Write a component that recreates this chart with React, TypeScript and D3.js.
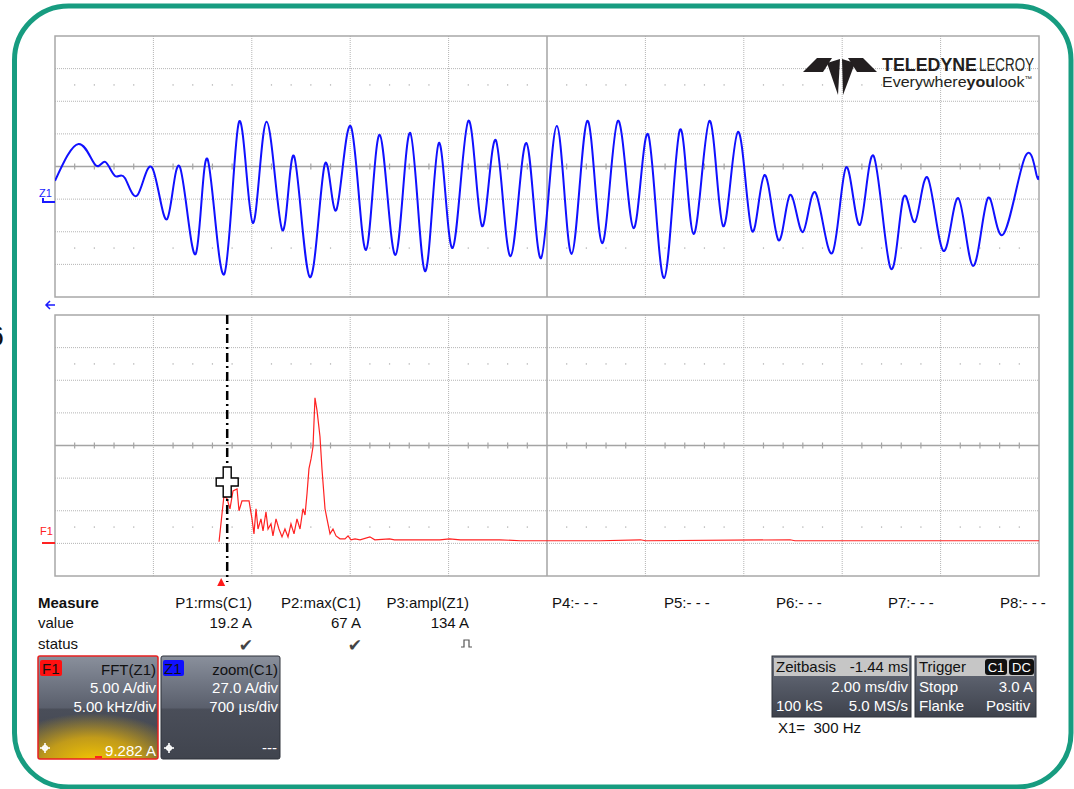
import React from 'react';
import * as d3 from 'd3';

// zoom trace Z1 (divisions: x 0..10, y -4..4), read at peaks / troughs
const zoomX = [0, 0.24, 0.41, 0.51, 0.61, 0.71, 0.84, 0.99, 1.14, 1.27, 1.43, 1.55, 1.72, 1.87, 2.01, 2.15, 2.31, 2.43, 2.59, 2.74, 2.86, 3.01, 3.16, 3.3, 3.46, 3.61, 3.76, 3.9, 4.04, 4.2, 4.34, 4.48, 4.63, 4.79, 4.94, 5.1, 5.25, 5.41, 5.56, 5.72, 5.88, 6.03, 6.19, 6.35, 6.49, 6.65, 6.79, 6.94, 7.08, 7.21, 7.35, 7.47, 7.6, 7.73, 7.9, 8.04, 8.18, 8.32, 8.49, 8.62, 8.74, 8.87, 9.03, 9.18, 9.33, 9.48, 9.63, 9.85, 9.97, 10];
const zoomY = [-0.44, 0.69, 0.05, 0.14, -0.29, -0.35, -0.87, -0.05, -1.61, -0.02, -2.68, 0.23, -3.3, 1.37, -1.73, 1.37, -1.95, 0.32, -3.39, 0.05, -1.33, 1.21, -2.56, 0.97, -2.71, 1.03, -3.21, 0.72, -2.5, 1.4, -1.83, 0.81, -2.75, 0.72, -2.81, 1.24, -2.68, 1.4, -2.35, 1.4, -1.89, 0.97, -3.42, 1.12, -2.07, 1.4, -1.83, 1.06, -1.95, -0.26, -2.25, -0.87, -2.01, -0.81, -2.65, -0.02, -1.79, 0.32, -3.11, -0.97, -1.7, -0.35, -2.59, -0.97, -3.05, -0.97, -2.1, 0.23, -0.2, -0.29];

// FFT trace F1 (divisions)
const fftX = [1.667, 1.697, 1.717, 1.748, 1.778, 1.809, 1.85, 1.87, 1.9, 1.972, 2.002, 2.022, 2.043, 2.063, 2.093, 2.114, 2.144, 2.165, 2.195, 2.215, 2.246, 2.276, 2.307, 2.337, 2.368, 2.398, 2.429, 2.459, 2.49, 2.52, 2.541, 2.561, 2.581, 2.602, 2.622, 2.642, 2.663, 2.693, 2.713, 2.744, 2.764, 2.795, 2.825, 2.856, 2.896, 2.947, 2.978, 3.008, 3.049, 3.1, 3.2, 3.25, 3.4, 3.45, 3.51, 3.71, 3.91, 4.01, 4.12, 4.32, 4.52, 4.73, 5.54, 5.95, 6.0, 7.47, 7.52, 10];
const fftY = [-2.95, -2.1, -1.54, -1.63, -1.94, -1.39, -1.33, -2.0, -1.7, -1.7, -2.25, -2.71, -1.94, -2.56, -2.25, -2.62, -2.03, -2.56, -2.4, -2.77, -2.25, -2.56, -2.8, -2.56, -2.8, -2.4, -2.71, -2.25, -2.56, -1.94, -2.13, -1.48, -0.71, -0.41, -0.04, 1.46, 1.07, 0.27, -0.71, -1.94, -2.25, -2.71, -2.56, -2.77, -2.86, -2.86, -2.77, -2.89, -2.86, -2.89, -2.8, -2.89, -2.86, -2.89, -2.89, -2.89, -2.89, -2.86, -2.89, -2.89, -2.89, -2.92, -2.92, -2.89, -2.92, -2.89, -2.92, -2.92];

const measureNames = ['P1:rms(C1)', 'P2:max(C1)', 'P3:ampl(Z1)'];
const measureValues = ['19.2 A', '67 A', '134 A'];
const emptyMeasures = ['P4:- - -', 'P5:- - -', 'P6:- - -', 'P7:- - -', 'P8:- - -'];
const cursorDiv = 1.75;

const FONT = '"Liberation Sans", Arial, sans-serif';
const PL = 55, PR = 1039;
const x = d3.scaleLinear().domain([0, 10]).range([PL, PR]);

function Grid({ y0, y1 }: { y0: number; y1: number }) {
  const y = d3.scaleLinear().domain([-4, 4]).range([y1, y0]);
  const minor = d3.range(0, 50).map(i => i / 5).filter(v => v % 1 !== 0);
  return (
    <g>
      {d3.range(1, 10).filter(i => i !== 5).map(i => (
        <line key={'v' + i} x1={x(i)} x2={x(i)} y1={y0} y2={y1} stroke="#b4b4b4" strokeDasharray="1 1" />
      ))}
      {d3.range(-3, 4).filter(j => j !== 0).map(j => (
        <line key={'h' + j} x1={PL} x2={PR} y1={y(j)} y2={y(j)} stroke="#b4b4b4" strokeDasharray="1 1" />
      ))}
      {[-2.5, 2.5].map(j => minor.map(v => (
        <rect key={'d' + j + v} x={x(v) - 0.6} y={y(j) - 0.6} width={1.2} height={1.2} fill="#a8a8a8" />
      )))}
      <line x1={x(5)} x2={x(5)} y1={y0} y2={y1} stroke="#a4a4a4" strokeWidth={1.5} />
      <line x1={PL} x2={PR} y1={y(0)} y2={y(0)} stroke="#a4a4a4" strokeWidth={1.5} />
      {minor.map(v => (
        <line key={'t' + v} x1={x(v)} x2={x(v)} y1={y(0) - 3} y2={y(0) + 3} stroke="#a4a4a4" strokeWidth={1.2} />
      ))}
      <rect x={PL} y={y0} width={PR - PL} height={y1 - y0} fill="none" stroke="#a8a8a8" strokeWidth={1.5} />
    </g>
  );
}

function Crosshair({ cx, cy, size, color }: { cx: number; cy: number; size: number; color: string }) {
  return (
    <g stroke={color} strokeWidth={1.6}>
      <line x1={cx - size} x2={cx + size} y1={cy} y2={cy} />
      <line x1={cx} x2={cx} y1={cy - size} y2={cy + size} />
      <circle cx={cx} cy={cy} r={size * 0.45} fill="none" />
    </g>
  );
}

export default function App() {
  const yTop = d3.scaleLinear().domain([-4, 4]).range([297, 36]);
  const yBot = d3.scaleLinear().domain([-4, 4]).range([576, 315]);
  const zoomLine = d3.line<number>().x((_, i) => x(zoomX[i])).y(d => yTop(d)).curve(d3.curveNatural);
  const fftLine = d3.line<number>().x((_, i) => x(fftX[i])).y(d => yBot(d));
  const cx = x(cursorDiv);
  const cy = 482;
  const arm = 4, len = 15, hl = 11;
  const cross = `M${cx - arm},${cy - len} H${cx + arm} V${cy - arm} H${cx + hl} V${cy + arm} H${cx + arm} V${cy + len} H${cx - arm} V${cy + arm} H${cx - hl} V${cy - arm} H${cx - arm} Z`;

  return (
    <svg width={1074} height={789} style={{ position: 'absolute', left: 0, top: 0, background: '#fff' }} fontFamily={FONT}>
      <defs>
        <linearGradient id="boxG" x1="0" y1="0" x2="0" y2="1">
          <stop offset="0" stopColor="#8a909c" />
          <stop offset="0.2" stopColor="#767c89" />
          <stop offset="0.5" stopColor="#5a5f6c" />
          <stop offset="0.52" stopColor="#4a4e59" />
          <stop offset="1" stopColor="#40444e" />
        </linearGradient>
        <radialGradient id="glow" cx="0.45" cy="1.05" r="0.8">
          <stop offset="0" stopColor="#f6c800" stopOpacity={1} />
          <stop offset="0.5" stopColor="#d8aa10" stopOpacity={0.85} />
          <stop offset="1" stopColor="#d8aa10" stopOpacity={0} />
        </radialGradient>
        <linearGradient id="tbG" x1="0" y1="0" x2="0" y2="1">
          <stop offset="0" stopColor="#6e7380" />
          <stop offset="0.5" stopColor="#545965" />
          <stop offset="1" stopColor="#3e424c" />
        </linearGradient>
        <clipPath id="trigClip"><rect x={915} y={656} width={121} height={61} /></clipPath>
        <clipPath id="topClip"><rect x={PL} y={36} width={PR - PL} height={261} /></clipPath>
      </defs>

      <text x={4} y={346} fontSize={30} textAnchor="end" fill="#111">6</text>
      <rect x={14.5} y={6} width={1056.5} height={781} rx={54} fill="none" stroke="#179c80" strokeWidth={5} />

      <Grid y0={36} y1={297} />
      <Grid y0={315} y1={576} />

      {/* logo */}
      <g fill="#231f20">
        <polygon points="803,72 817,58 832,58 823,72" />
        <polygon points="827,63 840,59 838,95" />
        <polygon points="842,59 855,63 843,95" />
        <polygon points="877,72 863,58 848,58 857,72" />
      </g>
      <text x={882} y={71} fontSize={18} fontWeight="bold" fill="#231f20" textLength={95} lengthAdjust="spacingAndGlyphs">TELEDYNE</text>
      <text x={979} y={71} fontSize={18} fill="#231f20" textLength={55} lengthAdjust="spacingAndGlyphs">LECROY</text>
      <text x={882} y={87} fontSize={15} fill="#231f20" textLength={150} lengthAdjust="spacingAndGlyphs">
        Everywhere<tspan fontWeight="bold">you</tspan>look<tspan fontSize={7} dy={-6}>™</tspan>
      </text>

      <path d={zoomLine(zoomY) || ''} fill="none" stroke="#1010ff" strokeWidth={2} clipPath="url(#topClip)" />
      <path d={fftLine(fftY) || ''} fill="none" stroke="#ff2222" strokeWidth={1.2} />

      {/* channel labels */}
      <text x={39} y={197} fontSize={11} fill="#1a1aff">Z1</text>
      <path d="M43,198 V202 H55" fill="none" stroke="#1a1aff" strokeWidth={2} />
      <path d="M55,305 H46 M50,301 L46,305 L50,309" fill="none" stroke="#1a1aff" strokeWidth={1.5} />
      <text x={40} y={535} fontSize={11} fill="#ff2222">F1</text>
      <path d="M42,543 H55" fill="none" stroke="#ff2222" strokeWidth={2} />

      {/* cursor */}
      <line x1={cx} x2={cx} y1={315} y2={582} stroke="#000" strokeWidth={2.5} strokeDasharray="9 4 2 4" />
      <path d={cross} fill="#fff" stroke="#000" strokeWidth={1.4} />
      <polygon points={`${x(cursorDiv) - 6},578 ${x(cursorDiv) - 10},586 ${x(cursorDiv) - 2},586`} fill="#ff1a1a" />

      {/* measure table */}
      <g fontSize={15} fill="#111">
        <text x={38} y={608} fontWeight="bold">Measure</text>
        <text x={38} y={628}>value</text>
        <text x={38} y={649}>status</text>
        {measureNames.map((m, i) => (
          <text key={m} x={[252, 361, 469][i]} y={608} textAnchor="end">{m}</text>
        ))}
        {measureValues.map((m, i) => (
          <text key={m} x={[252, 361, 469][i]} y={628} textAnchor="end">{m}</text>
        ))}
        {emptyMeasures.map((m, i) => (
          <text key={m} x={552 + i * 112} y={608}>{m}</text>
        ))}
        <text x={253} y={651} textAnchor="end" fontSize={17} fill="#444" fontFamily="DejaVu Sans">✔</text>
        <text x={362} y={651} textAnchor="end" fontSize={17} fill="#444" fontFamily="DejaVu Sans">✔</text>
      </g>
      <path d="M461,647 H464 V640 H469 V647 H472" fill="none" stroke="#555" strokeWidth={1.2} />

      {/* F1 box */}
      <rect x={38} y={656} width={120} height={103} rx={2} fill="url(#boxG)" />
      <rect x={38} y={698} width={120} height={61} fill="url(#glow)" />
      <rect x={38} y={656} width={120} height={103} rx={2} fill="none" stroke="#e82020" strokeWidth={1.5} />
      <rect x={40} y={660} width={22} height={16} rx={2} fill="#ff1010" />
      <text x={42} y={674} fontSize={15} fill="#111">F1</text>
      <g fontSize={15} textAnchor="end">
        <text x={156} y={675} fill="#111">FFT(Z1)</text>
        <text x={156} y={693} fill="#fff">5.00 A/div</text>
        <text x={156} y={712} fill="#fff">5.00 kHz/div</text>
        <text x={156} y={756} fill="#fff">9.282 A</text>
      </g>
      <line x1={95} x2={102} y1={757} y2={757} stroke="#ff2020" strokeWidth={2} />
      <Crosshair cx={45} cy={748} size={5} color="#fff" />

      {/* Z1 box */}
      <rect x={161} y={656} width={119} height={103} rx={2} fill="url(#boxG)" stroke="#2f323a" strokeWidth={1} />
      <rect x={163} y={660} width={21} height={16} rx={2} fill="#1010ff" />
      <text x={164} y={674} fontSize={15} fill="#111">Z1</text>
      <g fontSize={15} textAnchor="end">
        <text x={278} y={675} fill="#111">zoom(C1)</text>
        <text x={278} y={693} fill="#fff">27.0 A/div</text>
        <text x={278} y={712} fill="#fff">700 µs/div</text>
        <text x={277} y={753} fill="#fff">---</text>
      </g>
      <Crosshair cx={169} cy={748} size={5} color="#fff" />

      {/* Zeitbasis box */}
      <rect x={772} y={656} width={139} height={61} fill="url(#tbG)" stroke="#2f323a" />
      <rect x={774} y={658} width={135} height={18} fill="#c6c6c6" />
      <g fontSize={15}>
        <text x={776} y={672} fill="#111">Zeitbasis</text>
        <text x={908} y={672} fill="#111" textAnchor="end">-1.44 ms</text>
        <text x={908} y={692} fill="#fff" textAnchor="end">2.00 ms/div</text>
        <text x={776} y={711} fill="#fff">100 kS</text>
        <text x={908} y={711} fill="#fff" textAnchor="end">5.0 MS/s</text>
      </g>

      {/* Trigger box */}
      <rect x={915} y={656} width={121} height={61} fill="url(#tbG)" stroke="#2f323a" />
      <rect x={917} y={658} width={117} height={18} fill="#c6c6c6" />
      <g fontSize={15} clipPath="url(#trigClip)">
        <text x={919} y={672} fill="#111">Trigger</text>
        <rect x={985} y={659} width={22} height={16} rx={3} fill="#111" />
        <rect x={1009} y={659} width={25} height={16} rx={3} fill="#111" />
        <text x={996} y={672} fontSize={13} fill="#fff" textAnchor="middle">C1</text>
        <text x={1021.5} y={672} fontSize={13} fill="#fff" textAnchor="middle">DC</text>
        <text x={919} y={692} fill="#fff">Stopp</text>
        <text x={1033} y={692} fill="#fff" textAnchor="end">3.0 A</text>
        <text x={919} y={711} fill="#fff">Flanke</text>
        <text x={986} y={711} fill="#fff">Positiv</text>
      </g>
      <text x={778} y={733} fontSize={15} fill="#111">{'X1=\u00a0\u00a0300 Hz'}</text>
    </svg>
  );
}
